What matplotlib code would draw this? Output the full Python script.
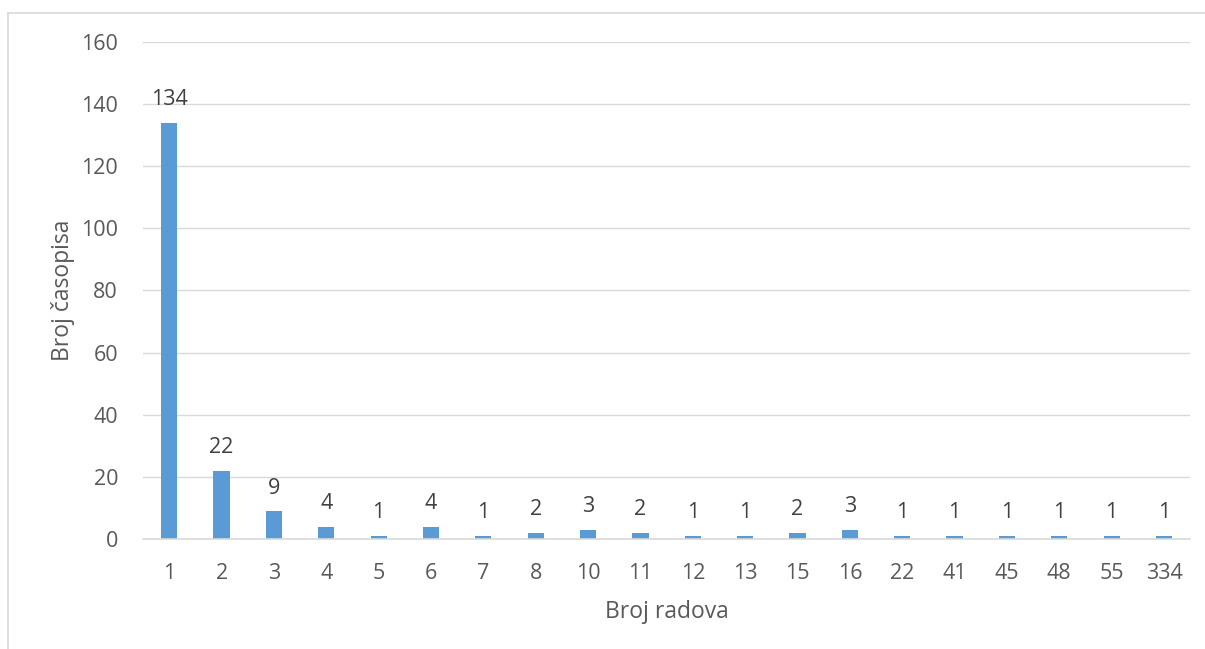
import matplotlib.pyplot as plt
from matplotlib.lines import Line2D

categories = ["1", "2", "3", "4", "5", "6", "7", "8", "10", "11", "12", "13",
              "15", "16", "22", "41", "45", "48", "55", "334"]
values = [134, 22, 9, 4, 1, 4, 1, 2, 3, 2, 1, 1, 2, 3, 1, 1, 1, 1, 1, 1]

text_color = "#595959"
grid_color = "#D9D9D9"
bar_color = "#5B9BD5"

plt.rcParams["font.family"] = ["Open Sans", "DejaVu Sans"]

fig = plt.figure(figsize=(12.05, 6.49), dpi=100)
ax = fig.add_axes([0.1187, 0.1695, 0.869, 0.7658])

x = range(len(categories))
bars = ax.bar(x, values, width=0.31, color=bar_color, zorder=3)
for rect, v in zip(bars, values):
    ax.text(rect.get_x() + rect.get_width() / 2, v + 4, str(v),
            ha="center", va="bottom", fontsize=15.5, color="#404040")

ax.set_xlim(-0.5, len(categories) - 0.5)
ax.set_ylim(0, 160)
ax.set_yticks(range(0, 161, 20))
ax.set_xticks(list(x))
ax.set_xticklabels(categories)
ax.tick_params(axis="both", length=0, labelsize=15.5, colors=text_color)
ax.tick_params(axis="x", pad=17)
ax.tick_params(axis="y", pad=18)
ax.yaxis.grid(True, color=grid_color, linewidth=1, zorder=0)
for s in ["top", "right", "left"]:
    ax.spines[s].set_visible(False)
ax.spines["bottom"].set_color(grid_color)
ax.spines["bottom"].set_linewidth(1.2)
ax.spines["bottom"].set_zorder(4)

ax.set_xlabel("Broj radova", fontsize=16.5, color=text_color, labelpad=12)
ax.set_ylabel("Broj časopisa", fontsize=16.5, color=text_color, labelpad=4)

# chart frame
fig.add_artist(Line2D([8 / 1205, 8 / 1205], [0, 1 - 13 / 649],
                      color=grid_color, linewidth=1.2))
fig.add_artist(Line2D([8 / 1205, 1], [1 - 13 / 649, 1 - 13 / 649],
                      color=grid_color, linewidth=1.2))

fig.savefig("out.png", dpi=100)
